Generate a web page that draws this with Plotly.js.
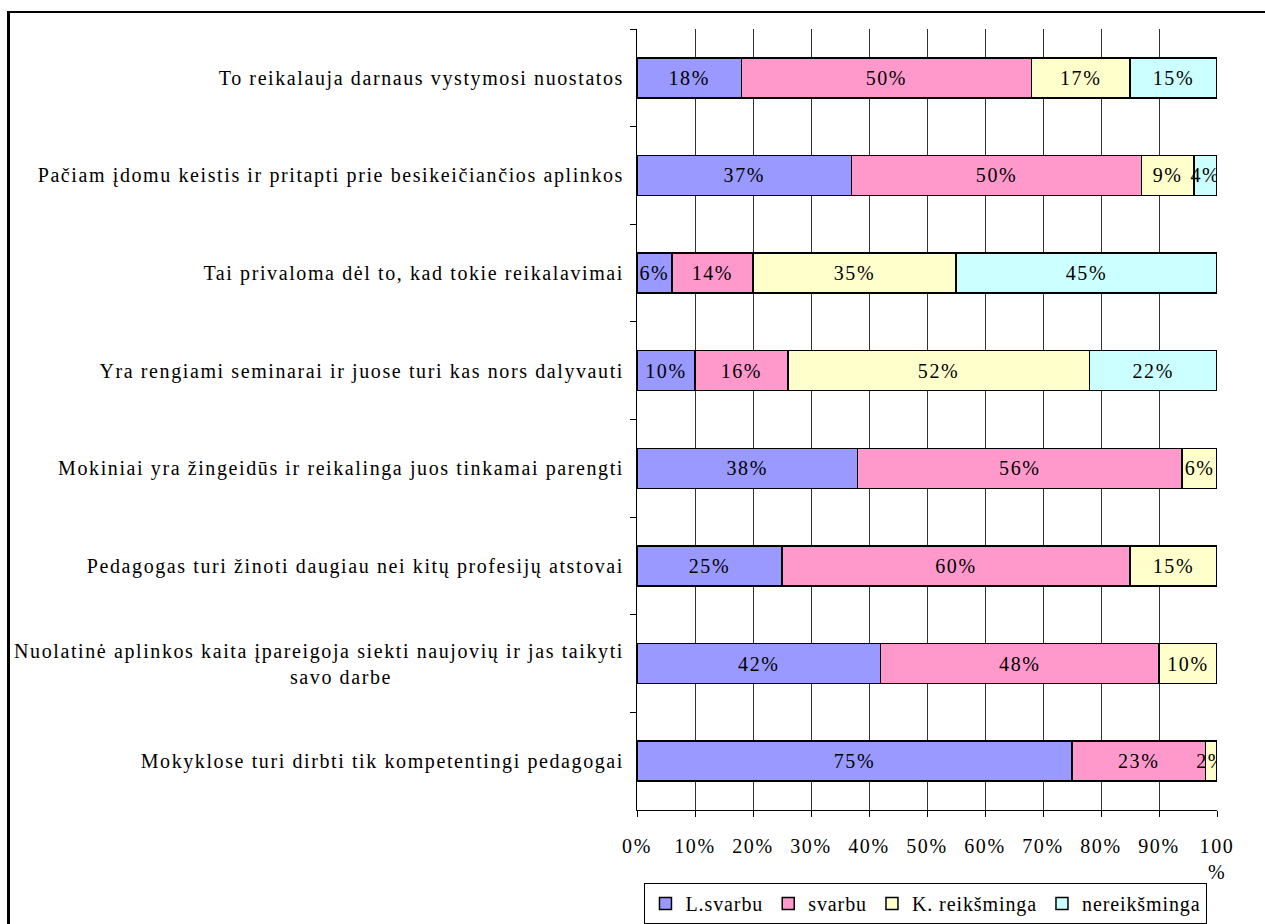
<!DOCTYPE html>
<html>
<head>
<meta charset="utf-8">
<script src="https://cdn.plot.ly/plotly-3.0.1.min.js"></script>
<style>
  html, body { margin: 0; padding: 0; background: #fff; overflow: hidden; }
  #chart { width: 1265px; height: 924px; position: relative; }
  svg text { letter-spacing: 1.6px; }
  .legendtext { letter-spacing: 0.9px; }
  #frame { position: absolute; left: 7px; top: 11px; width: 1400px; height: 1100px;
           border-left: 3px solid #000; border-top: 2px solid #000; pointer-events: none; }
</style>
</head>
<body>
<div id="chart"></div>
<div id="frame"></div>
<script>
const PAD = '\u2002'.repeat(20);
const categories = [
  'To reikalauja darnaus vystymosi nuostatos',
  'Pačiam įdomu keistis ir pritapti prie besikeičiančios aplinkos',
  'Tai privaloma dėl to, kad tokie reikalavimai',
  'Yra rengiami seminarai ir juose turi kas nors dalyvauti',
  'Mokiniai yra žingeidūs ir reikalinga juos tinkamai parengti',
  'Pedagogas turi žinoti daugiau nei kitų profesijų atstovai',
  'Nuolatinė aplinkos kaita įpareigoja siekti naujovių ir jas taikyti<br>savo darbe' + PAD,
  'Mokyklose turi dirbti tik kompetentingi pedagogai'
];
const seriesNames = ['L.svarbu', 'svarbu', 'K. reikšminga', 'nereikšminga'];
const lSvarbu      = [18, 37, 6, 10, 38, 25, 42, 75];
const svarbu       = [50, 50, 14, 16, 56, 60, 48, 23];
const kReiksminga  = [17, 9, 35, 52, 6, 15, 10, 2];
const nereiksminga = [15, 4, 45, 22, 0, 0, 0, 0];
const seriesColors = ['#9999FF', '#FF99CC', '#FFFFCC', '#CCFFFF'];
const tickVals = [0, 10, 20, 30, 40, 50, 60, 70, 80, 90, 100];
const tickText = ['0%', '10%', '20%', '30%', '40%', '50%', '60%', '70%', '80%', '90%', '100<br>%'];

const FONT = 'Liberation Serif, Times New Roman, serif';
const FS = 20;
const allSeries = [lSvarbu, svarbu, kReiksminga, nereiksminga];

const traces = allSeries.map((vals, i) => ({
  type: 'bar',
  orientation: 'h',
  name: seriesNames[i],
  y: categories,
  x: vals,
  text: vals.map(v => v > 0 ? v + '%' : ''),
  textposition: 'inside',
  insidetextanchor: 'middle',
  constraintext: 'none',
  textangle: 0,
  insidetextfont: { family: FONT, size: FS, color: '#000' },
  hoverinfo: 'name+x',
  marker: { color: seriesColors[i], line: { color: '#000', width: 1.5 } }
}));

const layout = {
  width: 1265,
  height: 924,
  barmode: 'stack',
  bargap: 0.59,
  paper_bgcolor: '#fff',
  plot_bgcolor: '#fff',
  font: { family: FONT, size: FS, color: '#000' },
  margin: { l: 637, r: 48, t: 29, b: 114, pad: 0, autoexpand: false },
  showlegend: true,
  legend: {
    orientation: 'h',
    xref: 'container',
    x: 0.732, xanchor: 'center',
    yref: 'paper',
    y: -0.0935, yanchor: 'top',
    bordercolor: '#000', borderwidth: 1,
    font: { family: FONT, size: FS, color: '#000' },
    traceorder: 'normal',
    itemwidth: 30,
    tracegroupgap: 0
  },
  xaxis: {
    range: [0, 100],
    tickmode: 'array',
    tickvals: tickVals,
    ticktext: tickText,
    showgrid: true,
    gridcolor: '#333',
    gridwidth: 1,
    showline: true,
    linecolor: '#000',
    linewidth: 1,
    ticks: 'outside',
    ticklen: 6,
    tickcolor: '#000',
    zeroline: false,
    fixedrange: true,
    ticklabelstandoff: 12,
    tickfont: { family: FONT, size: FS, color: '#000' }
  },
  yaxis: {
    type: 'category',
    autorange: 'reversed',
    tickson: 'boundaries',
    ticks: 'outside',
    ticklen: 6,
    tickcolor: '#000',
    showgrid: false,
    showline: true,
    linecolor: '#000',
    linewidth: 1,
    fixedrange: true,
    ticklabelstandoff: 8,
    tickfont: { family: FONT, size: FS, color: '#000' }
  }
};

Plotly.newPlot('chart', traces, layout, { displayModeBar: false, staticPlot: true });
</script>
</body>
</html>
